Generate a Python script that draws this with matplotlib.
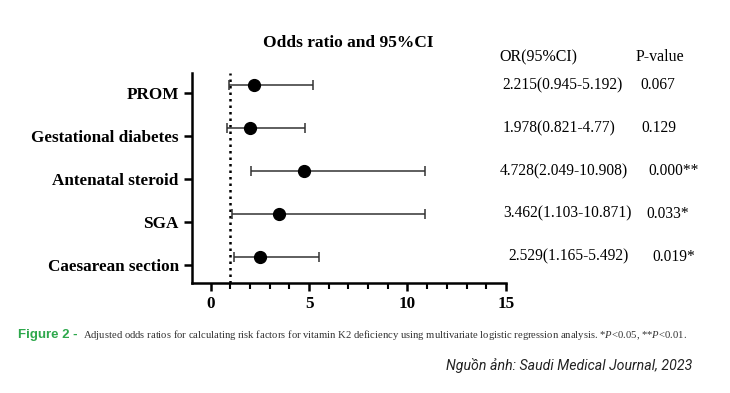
#!/usr/bin/env python
# -*- coding: utf-8 -*-

import matplotlib
matplotlib.use("Agg")
import matplotlib.pyplot as plt
from matplotlib.ticker import MultipleLocator

# datos
factores = ["PROM", "Gestational diabetes", "Antenatal steroid", "SGA", "Caesarean section"]
odds = [2.215, 1.978, 4.728, 3.462, 2.529]
ic_bajo = [0.945, 0.821, 2.049, 1.103, 1.165]
ic_alto = [5.192, 4.77, 10.908, 10.871, 5.492]
textos_or = ["2.215(0.945-5.192)", "1.978(0.821-4.77)", "4.728(2.049-10.908)",
             "3.462(1.103-10.871)", "2.529(1.165-5.492)"]
textos_p = ["0.067", "0.129", "0.000**", "0.033*", "0.019*"]

serif = "Liberation Serif"
plt.rcParams["mathtext.fontset"] = "custom"
plt.rcParams["mathtext.it"] = "Liberation Serif:italic"
plt.rcParams["mathtext.rm"] = "Liberation Serif"

fig = plt.figure(figsize=(7.3, 3.93), dpi=100)
ax = fig.add_axes([0.263, 0.280, 0.430, 0.534])

n = len(factores)
pos = [n - i for i in range(n)]
desplaz = 0.19
pos_puntos = [p + desplaz for p in pos]

err = [[o - b for o, b in zip(odds, ic_bajo)], [a - o for o, a in zip(odds, ic_alto)]]
ax.errorbar(odds, pos_puntos, xerr=err, fmt="o", color="black", ecolor="#333333",
            elinewidth=1.1, capsize=3.5, capthick=1.1, markersize=8.5, zorder=3)

ax.axvline(1, color="black", linestyle=(0, (1, 1.6)), linewidth=1.8, zorder=2)

ax.set_xlim(-0.95, 15)
ax.set_ylim(0.58, 5.47)
ax.set_xticks([0, 5, 10, 15])
ax.xaxis.set_minor_locator(MultipleLocator(1))
ax.set_yticks(pos)
ax.set_yticklabels(factores)

for s in ["top", "right"]:
    ax.spines[s].set_visible(False)
for s in ["left", "bottom"]:
    ax.spines[s].set_linewidth(1.8)

ax.tick_params(axis="both", which="major", direction="out", length=6, width=1.8)
ax.tick_params(axis="x", which="minor", direction="out", length=4, width=1.5)
for lab in ax.get_xticklabels() + ax.get_yticklabels():
    lab.set_fontfamily(serif)
    lab.set_fontweight("bold")
    lab.set_fontsize(12.3)

fig.text(0.477, 0.89, "Odds ratio and 95%CI", ha="center", va="center",
         fontfamily=serif, fontweight="bold", fontsize=12.5)

# tabla a la derecha
fig.text(0.684, 0.855, "OR(95%CI)", ha="left", va="center", fontfamily=serif, fontsize=11.5)
fig.text(0.871, 0.855, "P-value", ha="left", va="center", fontfamily=serif, fontsize=11.5)
x_or = [0.688, 0.688, 0.685, 0.690, 0.696]
x_p = [0.877, 0.879, 0.888, 0.886, 0.893]
for p, t_or, t_p, xo, xp in zip(pos_puntos, textos_or, textos_p, x_or, x_p):
    y_fig = ax.transData.transform((0, p))[1] / fig.bbox.height
    fig.text(xo, y_fig, t_or, ha="left", va="center", fontfamily=serif, fontsize=11.2)
    fig.text(xp, y_fig, t_p, ha="left", va="center", fontfamily=serif, fontsize=11.2)

# pie de figura
fig.text(0.025, 0.147, "Figure 2 -", ha="left", va="center", color="#2ea84c",
         fontfamily="Liberation Sans", fontweight="bold", fontsize=9.5)
fig.text(0.114, 0.147,
         "Adjusted odds ratios for calculating risk factors for vitamin K2 deficiency using "
         "multivariate logistic regression analysis. *$P$<0.05, **$P$<0.01.",
         ha="left", va="center", color="#333333", fontfamily=serif, fontsize=7.65)
fig.text(0.948, 0.071, "Nguồn ảnh: Saudi Medical Journal, 2023", ha="right", va="center",
         color="#222222", fontfamily="Roboto", fontstyle="italic", fontsize=10.2)

fig.savefig("out.png", dpi=100)
